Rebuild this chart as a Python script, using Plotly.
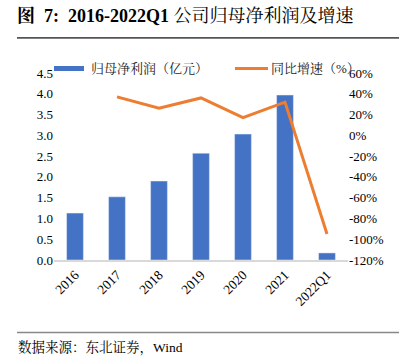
import plotly.graph_objects as go

categories = ["2016", "2017", "2018", "2019", "2020", "2021", "2022Q1"]
profit = [1.13, 1.52, 1.90, 2.57, 3.03, 3.97, 0.17]
growth_cats = ["2017", "2018", "2019", "2020", "2021", "2022Q1"]
growth = [37, 26, 36, 17, 32, -95]
left_ticks = [0, 0.5, 1.0, 1.5, 2.0, 2.5, 3.0, 3.5, 4.0, 4.5]
right_ticks = [60, 40, 20, 0, -20, -40, -60, -80, -100, -120]
bar_name = "归母净利润（亿元）"
line_name = "同比增速（%）"

serif = "Liberation Serif, Noto Serif CJK SC, Noto Sans CJK SC, serif"

L, R, T, B = 54, 61, 73, 103
W, H = 409, 363
PW, PH = W - L - R, H - T - B


def px(x):
    return (x - L) / PW


def py(y):
    return (H - B - y) / PH


fig = go.Figure()
fig.add_trace(go.Bar(x=categories, y=profit, name=bar_name,
                     marker_color="#4472C4", width=0.4, yaxis="y"))
fig.add_trace(go.Scatter(x=growth_cats, y=growth, name=line_name,
                         mode="lines", line=dict(color="#ED7D31", width=3), yaxis="y2"))

fig.update_layout(
    width=W, height=H,
    margin=dict(l=L, r=R, t=T, b=B),
    plot_bgcolor="white", paper_bgcolor="white",
    font=dict(family=serif, size=13, color="#000"),
    showlegend=False,
    xaxis=dict(type="category", tickangle=-45, showgrid=False, showline=True,
               linecolor="#D9D9D9", linewidth=1.5, ticks="", tickfont=dict(size=13.5)),
    yaxis=dict(range=[0, 4.5], tickvals=left_ticks, ticktext=[f"{v:.1f}" for v in left_ticks],
               showgrid=False, zeroline=False, ticks="", tickfont=dict(size=13)),
    yaxis2=dict(range=[-120, 60], overlaying="y", side="right",
                tickvals=right_ticks, ticktext=[f"{v}%" for v in right_ticks],
                showgrid=False, zeroline=False, ticks="", tickfont=dict(size=13)),
)

# manual legend
fig.add_shape(type="rect", xref="paper", yref="paper", x0=px(54), x1=px(84),
              y0=py(71), y1=py(66), fillcolor="#4472C4", line=dict(width=0))
fig.add_annotation(text=bar_name, xref="paper", yref="paper", x=px(89), y=py(68.5),
                   xanchor="left", yanchor="middle", showarrow=False,
                   font=dict(family=serif, size=13, color="#222"))
fig.add_shape(type="line", xref="paper", yref="paper", x0=px(235), x1=px(268),
              y0=py(68.5), y1=py(68.5), line=dict(color="#ED7D31", width=3))
fig.add_annotation(text=line_name, xref="paper", yref="paper", x=px(269), y=py(68.5),
                   xanchor="left", yanchor="middle", showarrow=False,
                   font=dict(family=serif, size=13, color="#222"))

# title and footer rules
fig.add_shape(type="line", xref="paper", yref="paper", x0=px(17), x1=px(399),
              y0=py(38), y1=py(38), line=dict(color="#555555", width=1.5))
fig.add_annotation(text=" ", xref="paper", yref="paper", x=px(17), y=py(38),
                   xanchor="left", yanchor="middle", showarrow=False,
                   width=382, height=1, bgcolor="#555555", borderpad=0, borderwidth=0,
                   font=dict(size=1))
fig.add_shape(type="line", xref="paper", yref="paper", x0=px(17), x1=px(399),
              y0=py(332.5), y1=py(332.5), line=dict(color="#888888", width=1.5))

fig.add_annotation(text="<b>图  7:  2016-2022Q1 </b>公司归母净利润及增速", xref="paper", yref="paper",
                   x=px(15), y=py(16), xanchor="left", yanchor="middle", showarrow=False,
                   font=dict(family=serif, size=18, color="#000"))
fig.add_annotation(text="数据来源：东北证券，Wind", xref="paper", yref="paper",
                   x=px(16), y=py(347), xanchor="left", yanchor="middle", showarrow=False,
                   font=dict(family=serif, size=13.5, color="#000"))

fig.write_html("out.html", config={"displayModeBar": False},
               post_script="document.body.style.margin='0';document.body.style.overflow='hidden';")
